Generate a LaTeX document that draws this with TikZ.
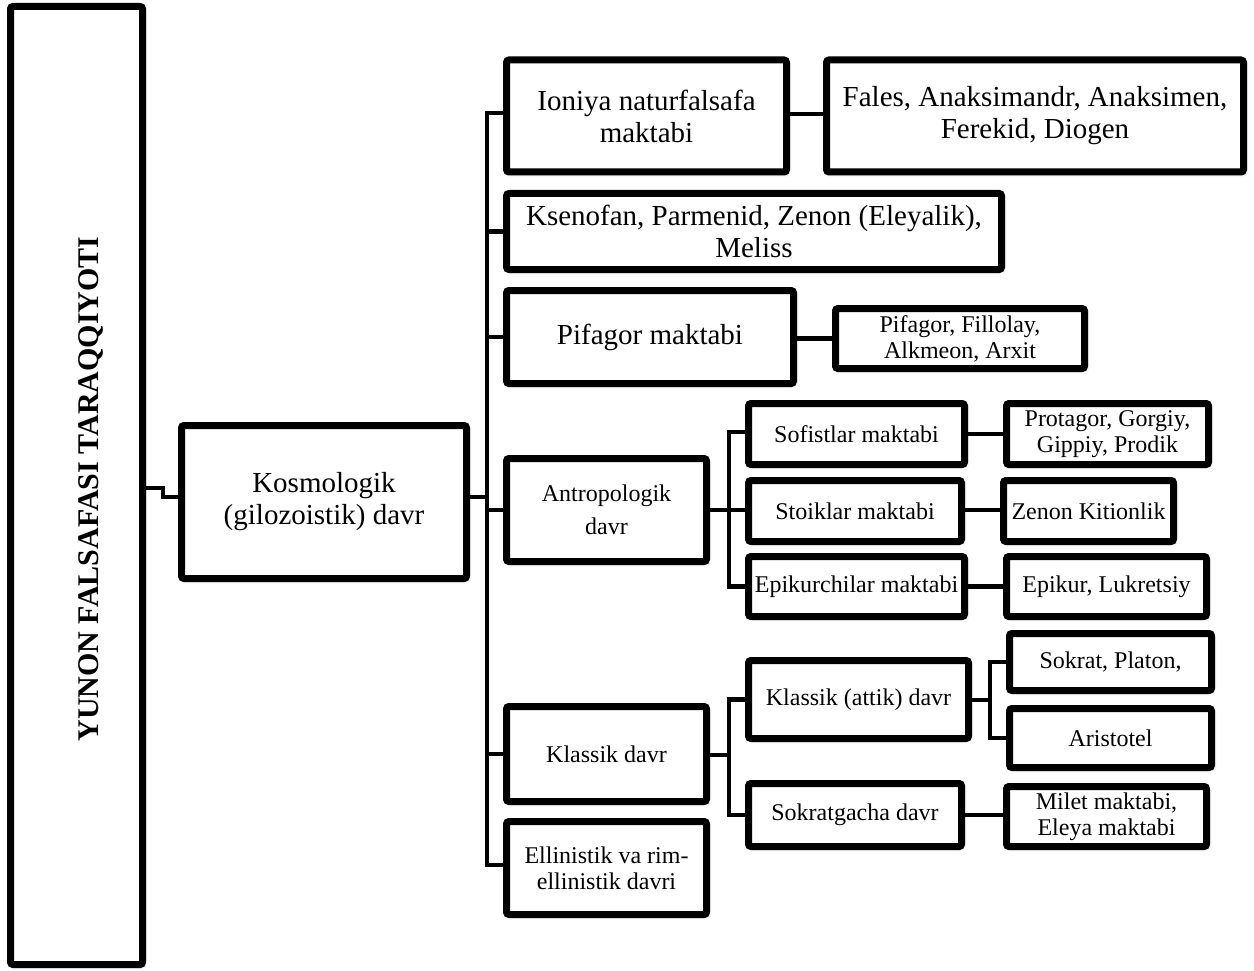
\documentclass[tikz,border=0pt]{standalone}
\usepackage{fontspec}
\setmainfont{Liberation Serif}
\usetikzlibrary{calc,shadows.blur}
\begin{document}
\begin{tikzpicture}[x=1pt,y=-1pt,
  box/.style={draw=black, line width=7pt, rounded corners=2.5pt, fill=white, inner sep=0pt, align=center,
    blur shadow={shadow xshift=2pt, shadow yshift=-2pt, shadow blur radius=3pt, shadow opacity=30}},
  big/.style={font=\fontsize{29}{32}\selectfont},
  small/.style={font=\fontsize{24}{26}\selectfont},
  conn/.style={draw=black, line width=4.5pt},
]
\useasboundingbox (0,0) rectangle (1254,971);

% boxes
\node[box, minimum width=132, minimum height=958] (main) at (76.5,485.5) {};
\node[rotate=90, anchor=base, font=\fontsize{30}{32}\selectfont\bfseries] (title) at (98,489) {YUNON FALSAFASI TARAQQIYOTI};

\node[box, big, minimum width=285, minimum height=153] (kos) at (324,502) {Kosmologik\\(gilozoistik) davr};

\node[box, big, minimum width=280, minimum height=112] (ion) at (646.5,116) {Ioniya naturfalsafa\\maktabi};
\node[box, big, minimum width=417, minimum height=112] (fal) at (1035,116) {Fales, Anaksimandr, Anaksimen,\\Ferekid, Diogen};

\node[box, big, minimum width=495, minimum height=76] (kse) at (754,231.5) {Ksenofan, Parmenid, Zenon (Eleyalik),\\Meliss};

\node[box, big, minimum width=287, minimum height=93] (pif) at (650,337) {Pifagor maktabi};
\node[box, small, minimum width=249, minimum height=60] (pfs) at (960,338.5) {Pifagor, Fillolay,\\Alkmeon, Arxit};

\node[box, small, minimum width=200, minimum height=103] (ant) at (606.5,510) {Antropologik\\[7pt]davr};
\node[box, small, minimum width=216, minimum height=61] (sof) at (856.5,434) {Sofistlar maktabi};
\node[box, small, minimum width=202, minimum height=61] (pro) at (1107.5,434) {Protagor, Gorgiy,\\Gippiy, Prodik};
\node[box, small, minimum width=213, minimum height=61] (sto) at (855,511) {Stoiklar maktabi};
\node[box, small, minimum width=170, minimum height=61] (zen) at (1088.5,511) {Zenon Kitionlik};
\node[box, small, minimum width=216, minimum height=60] (epi) at (856.5,586.5) {Epikurchilar maktabi};
\node[box, small, minimum width=200, minimum height=60] (epl) at (1106.5,586.5) {Epikur, Lukretsiy};

\node[box, small, minimum width=200, minimum height=95] (kla) at (606.5,754) {Klassik davr};
\node[box, small, minimum width=220, minimum height=78] (kat) at (858.5,699.5) {Klassik (attik) davr};
\node[box, small, minimum width=202, minimum height=57] (spl) at (1110.5,662) {Sokrat, Platon,};
\node[box, small, minimum width=202, minimum height=59] (ari) at (1110.5,738) {Aristotel};
\node[box, small, minimum width=213, minimum height=63] (sok) at (855,815) {Sokratgacha davr};
\node[box, small, minimum width=200, minimum height=60] (mil) at (1106.5,816.5) {Milet maktabi,\\Eleya maktabi};

\node[box, small, minimum width=200, minimum height=93] (ell) at (606.5,868) {Ellinistik va rim-\\ellinistik davri};

% connectors
\coordinate (tk) at (487,497);
\coordinate (at) at (729,510);
\coordinate (kt) at (729,755);
\coordinate (k2) at (990,700);

\draw[conn] (main.east |- 0,488) -- (163,488) |- (kos.west |- 0,497);
\draw[conn] (kos.east |- tk) -- (tk);
\draw[conn] (ion.west |- 0,113) -| (tk);
\draw[conn] (kse.west) -| (tk);
\draw[conn] (pif.west) -| (tk);
\draw[conn] (ant.west) -| (tk);
\draw[conn] (kla.west) -| (tk);
\draw[conn] (ell.west |- 0,865) -| (tk);

\draw[conn] (ion.east |- 0,114) -- (fal.west |- 0,114);
\draw[conn] (pif.east |- pfs) -- (pfs.west);

\draw[conn] (ant.east) -- (at);
\draw[conn] (sof.west |- 0,432) -| (at);
\draw[conn] (sto.west |- at) -| (at);
\draw[conn] (epi.west) -| (at);
\draw[conn] (sof.east) -- (pro.west);
\draw[conn] (sto.east |- at) -- (zen.west |- at);
\draw[conn] (epi.east) -- (epl.west);

\draw[conn] (kla.east |- kt) -- (kt);
\draw[conn] (kat.west) -| (kt);
\draw[conn] (sok.west) -| (kt);
\draw[conn] (sok.east) -- (mil.west |- sok);

\draw[conn] (kat.east |- k2) -- (k2);
\draw[conn] (spl.west) -| (k2);
\draw[conn] (ari.west) -| (k2);
\end{tikzpicture}
\end{document}
